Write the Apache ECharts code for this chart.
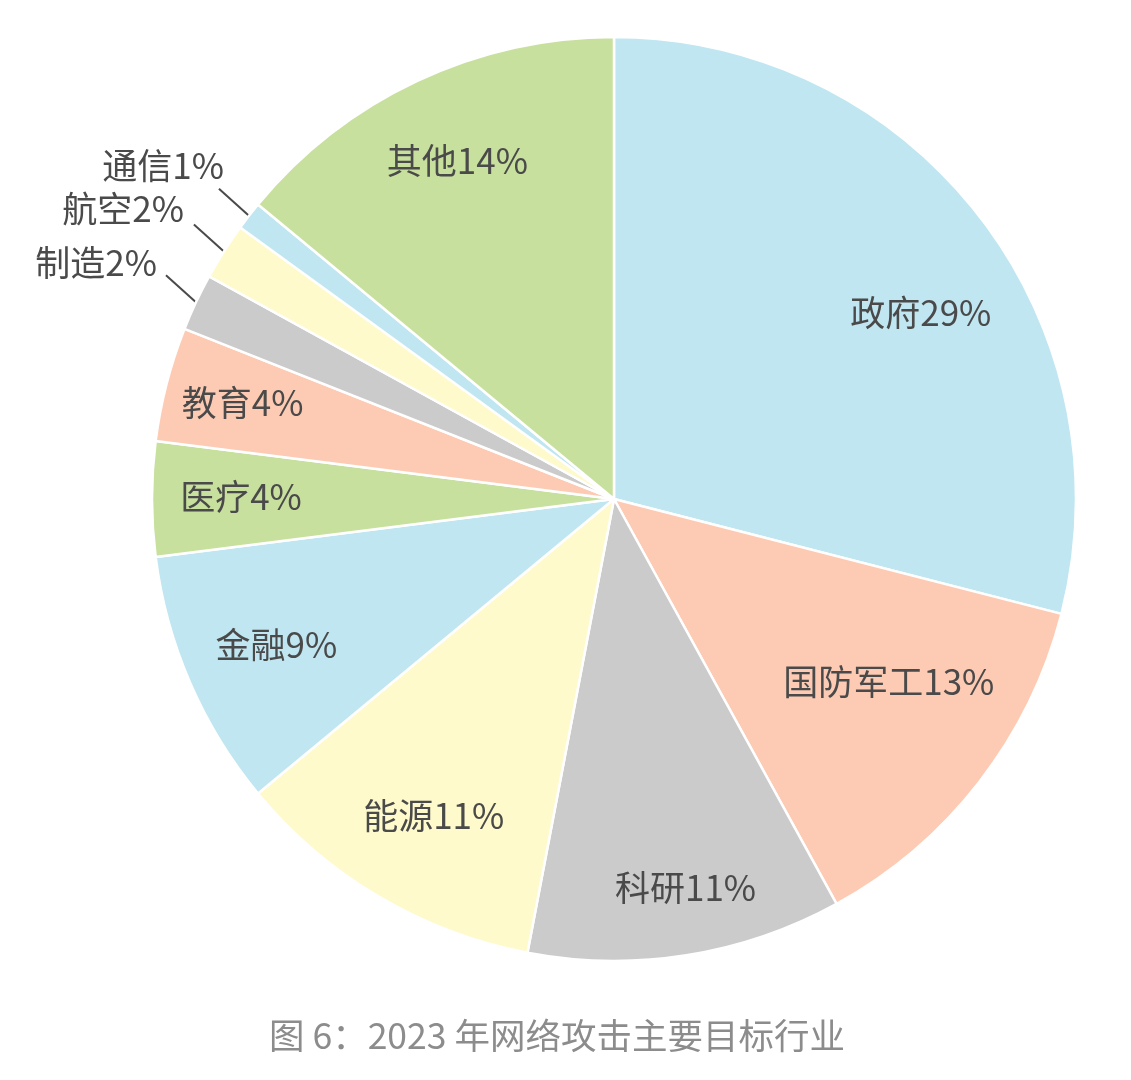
<!DOCTYPE html>
<html>
<head>
<meta charset="utf-8">
<script src="https://cdn.jsdelivr.net/npm/echarts@6/dist/echarts.min.js"></script>
<style>
html,body{margin:0;padding:0;background:#fff;}
#c{width:1131px;height:1080px;}
</style>
</head>
<body>
<div id="c"></div>
<script>
const categories = ['政府','国防军工','科研','能源','金融','医疗','教育','制造','航空','通信','其他'];
const values = [29,13,11,11,9,4,4,2,2,1,14];
const sliceColors = ['#c0e6f1','#fdcbb3','#cbcbcb','#fefacb','#c0e6f1','#c8e09e','#fdcbb3','#cbcbcb','#fefacb','#c0e6f1','#c8e09e'];
const outsideLabels = ['制造','航空','通信'];
const captionText = '图 6：2023 年网络攻击主要目标行业';

// hand placement nudges (style, not data)
const labelNudge = {'政府':[16,39],'国防军工':[-16,-43],'科研':[14,25],'能源':[7,0],'教育':[-15,-5],'医疗':[-5,-2],'其他':[0,-5]};
// outside labels: text right/middle relative to leader line end
const outsideNudge = {'通信':[5,-23],'航空':[-10,-16],'制造':[-9,-13]};
const LEADER = [-30,-27];

const FONT = '"Noto Sans CJK SC","Noto Sans",sans-serif';
const CX = 614, CY = 499, R = 462;

const baseData = categories.map((c,i)=>({name:c, value:values[i], itemStyle:{color:sliceColors[i]}}));

const labelData = categories.map((c,i)=>{
  const outside = outsideLabels.includes(c);
  return {
    name:c, value:values[i],
    itemStyle:{color:'rgba(0,0,0,0)', borderWidth:0},
    label: outside ? {position:'outside', distanceToLabelLine:0} : {position:'inside'},
    labelLine: outside ? {show:true, length:40, length2:0, lineStyle:{color:'#4a4a4a', width:2}} : {show:false}
  };
});

const chart = echarts.init(document.getElementById('c'), null, {renderer:'canvas'});
chart.setOption({
  backgroundColor:'#fff',
  animation:false,
  title:{
    text:captionText, left:264, top:1013,
    textStyle:{fontFamily:FONT, fontSize:35.5, fontWeight:'normal', color:'#8c8c8c'}
  },
  series:[
    {
      type:'pie', center:[CX,CY], radius:[0,R], startAngle:90, clockwise:true,
      silent:true, label:{show:false}, labelLine:{show:false},
      itemStyle:{borderColor:'#fff', borderWidth:2.5},
      data:baseData
    },
    {
      type:'pie', center:[CX,CY], radius:[R*0.58,R], startAngle:90, clockwise:true,
      silent:true, avoidLabelOverlap:false,
      label:{show:true, formatter:'{b}{c}%', fontFamily:FONT, fontSize:35, color:'#4a4a4a', lineHeight:42},
      labelLayout:function(p){
        const name = categories[p.dataIndex];
        const o = outsideNudge[name];
        if (o && p.labelLinePoints && p.labelLinePoints.length) {
          const s = p.labelLinePoints[0];
          const e = [s[0] + LEADER[0], s[1] + LEADER[1]];
          return {
            x: e[0] + o[0], y: e[1] + o[1], align:'right', verticalAlign:'middle',
            labelLinePoints: [s, e, e]
          };
        }
        const n = labelNudge[name];
        return n ? {dx:n[0], dy:n[1]} : {};
      },
      data:labelData
    }
  ]
});
</script>
</body>
</html>
